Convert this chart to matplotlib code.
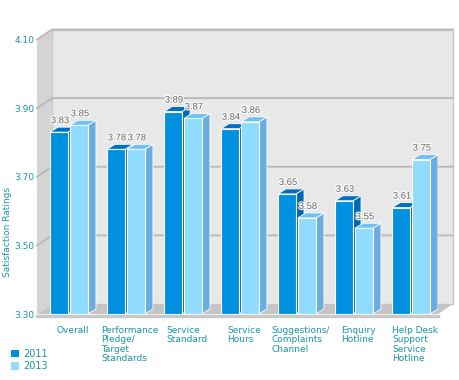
import matplotlib.pyplot as plt
import matplotlib.patheffects as pe
from matplotlib.patches import Polygon, Patch

categories = ["Overall", "Performance\nPledge/\nTarget\nStandards", "Service\nStandard",
              "Service\nHours", "Suggestions/\nComplaints\nChannel", "Enquiry\nHotline",
              "Help Desk\nSupport\nService\nHotline"]
values_2011 = [3.83, 3.78, 3.89, 3.84, 3.65, 3.63, 3.61]
values_2013 = [3.85, 3.78, 3.87, 3.86, 3.58, 3.55, 3.75]
series_names = ["2011", "2013"]
y_ticks = [3.30, 3.50, 3.70, 3.90, 4.10]

TEAL = "#1a93a6"
FRONT = ["#0090e0", "#90dcff"]
TOP = ["#0070c4", "#70c0f4"]
SIDE = ["#0068b4", "#6aaee0"]

W, H = 460, 380
fig = plt.figure(figsize=(W / 100, H / 100), dpi=100)
left_px, right_px, top_px, bot_px = 37, 438, 39.5, 314
ax = fig.add_axes([left_px / W, 1 - bot_px / H, (right_px - left_px) / W, (bot_px - top_px) / H])

ymin, ymax = 3.30, 4.10
xmin, xmax = -0.561, 6.474
ax.set_xlim(xmin, xmax)
ax.set_ylim(ymin, ymax)
ux = (right_px - left_px) / (xmax - xmin)   # px per x unit
uy = (bot_px - top_px) / (ymax - ymin)      # px per y unit

# wall depth and bar depth in data units
wdx, wdy = 15 / ux, 10 / uy
bdx, bdy = 8 / ux, 5 / uy

# walls
ax.add_patch(Polygon([(xmin + wdx, ymin + wdy), (xmax + wdx, ymin + wdy),
                      (xmax + wdx, ymax + wdy), (xmin + wdx, ymax + wdy)],
                     closed=True, fc="#e8e8e8", ec="#c8c8c8", lw=1, clip_on=False, zorder=0))
ax.add_patch(Polygon([(xmin, ymin), (xmin + wdx, ymin + wdy), (xmin + wdx, ymax + wdy), (xmin, ymax)],
                     closed=True, fc="#d4d4d4", ec="none", clip_on=False, zorder=0))
ax.add_patch(Polygon([(xmin, ymin), (xmax, ymin), (xmax + wdx, ymin + wdy), (xmin + wdx, ymin + wdy)],
                     closed=True, fc="#c4c4c4", ec="none", clip_on=False, zorder=0.5))
ax.plot([xmin, xmax], [ymin - 2 / uy, ymin - 2 / uy], color="#c8c8c8", lw=2.5, clip_on=False, zorder=0.6)

# gridlines across left and back walls
for t in y_ticks[1:]:
    ax.plot([xmin, xmin + wdx, xmax + wdx], [t, t + wdy, t + wdy], color="#b8b8b8", lw=1.3,
            clip_on=False, zorder=0.2)

# bars
bw = 0.316
offsets = [-0.175, 0.175]
for s, vals in enumerate([values_2011, values_2013]):
    for i, v in enumerate(vals):
        xc = i + offsets[s]
        x0, x1 = xc - bw / 2, xc + bw / 2
        ax.bar(xc, v - ymin, bottom=ymin, width=bw, color=FRONT[s], edgecolor="white",
               linewidth=0.8, zorder=2 + s * 2)
        ax.add_patch(Polygon([(x0, v), (x1, v), (x1 + bdx, v + bdy), (x0 + bdx, v + bdy)],
                             closed=True, fc=TOP[s], ec="white", lw=0.6, zorder=2 + s * 2))
        ax.add_patch(Polygon([(x1, ymin), (x1 + bdx, ymin + bdy), (x1 + bdx, v + bdy), (x1, v)],
                             closed=True, fc=SIDE[s], ec="white", lw=0.6, zorder=1.9 + s * 2))
        ax.text(xc + 1 / ux, v + bdy + 2 / uy, f"{v:.2f}", ha="center", va="bottom",
                fontsize=6.8, family="Liberation Sans", color="#606060", zorder=6,
                path_effects=[pe.withStroke(linewidth=1.5, foreground="white")])

# category labels
for i, c in enumerate(categories):
    ax.annotate(c, xy=(i, ymin), xytext=(4, -12), textcoords="offset pixels",
                ha="center", va="top", multialignment="left", fontsize=6.5,
                color=TEAL, linespacing=1.05)

ax.set_xticks([])
ax.set_yticks(y_ticks)
ax.set_yticklabels([f"{t:.2f}" for t in y_ticks], fontsize=6.5, color=TEAL)
ax.tick_params(axis="y", length=0, pad=2)
for sp in ax.spines.values():
    sp.set_visible(False)
ax.patch.set_visible(False)

fig.text(8 / W, 1 - 232 / H, "Satisfaction Ratings", rotation=90, ha="center", va="center",
         fontsize=6.5, color=TEAL)

handles = [Patch(facecolor=FRONT[k], edgecolor="none") for k in range(2)]
leg = fig.legend(handles, series_names, loc="upper left", bbox_to_anchor=(6 / W, 1 - 344 / H),
                 frameon=False, fontsize=7, handlelength=0.8, handleheight=0.8,
                 handletextpad=0.5, labelspacing=0.25, borderpad=0)
for txt in leg.get_texts():
    txt.set_color(TEAL)

fig.savefig("out.png", dpi=100)
